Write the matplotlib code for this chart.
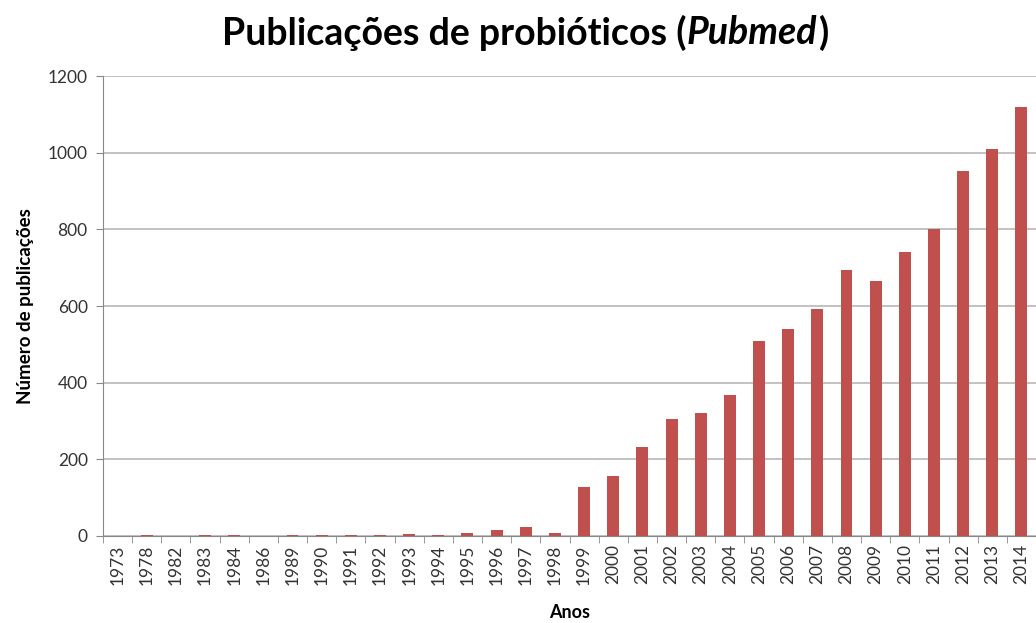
import matplotlib.pyplot as plt
import numpy as np

# data
anos = ['1973', '1978', '1982', '1983', '1984', '1986', '1989', '1990', '1991', '1992',
        '1993', '1994', '1995', '1996', '1997', '1998', '1999', '2000', '2001', '2002',
        '2003', '2004', '2005', '2006', '2007', '2008', '2009', '2010', '2011', '2012',
        '2013', '2014']
publicacoes = [1, 2, 1, 2, 2, 1, 2, 2, 3, 2,
               6, 3, 9, 16, 24, 9, 127, 157, 233, 304,
               321, 367, 510, 541, 592, 693, 664, 740, 802, 952,
               1010, 1120]
y_ticks = [0, 200, 400, 600, 800, 1000, 1200]

plt.rcParams['font.family'] = ['Lato', 'DejaVu Sans']

fig = plt.figure(figsize=(10.36, 6.23), dpi=100)
ax = fig.add_axes([103 / 1036, 1 - 536 / 623, 933 / 1036, 460 / 623])

x = np.arange(len(anos))
ax.bar(x, publicacoes, width=0.41, color='#C0504D', zorder=3)

ax.set_xlim(-0.5, len(anos) - 0.5)
ax.set_ylim(0, 1200)
ax.set_yticks(y_ticks)
ax.yaxis.grid(True, color='#b8b8b8', linewidth=1.2, zorder=0)

ax.set_xticks(x)
ax.set_xticklabels(anos, rotation=90)
ax.set_xticks(np.arange(len(anos) + 1) - 0.5, minor=True)
ax.tick_params(axis='x', which='major', length=0, pad=6, labelsize=12.5, labelcolor='#333333')
ax.tick_params(axis='x', which='minor', length=5, color='#888888')
ax.tick_params(axis='y', length=5, color='#888888', labelsize=12.5, labelcolor='#333333', pad=6)

for s in ['top', 'right']:
    ax.spines[s].set_visible(False)
ax.spines['left'].set_color('#888888')
ax.spines['bottom'].set_color('#888888')

ax.set_ylabel('Número de publicações', fontsize=13.5, fontweight='bold', labelpad=10)
ax.set_xlabel('Anos', fontsize=13, fontweight='bold', labelpad=14)

# title with italic part
ty = 1 - 33 / 623
fs = 27
t1 = fig.text(222 / 1036, ty, 'Publicações de probióticos (', fontsize=fs,
              fontweight='bold', ha='left', va='center')
fig.canvas.draw()
bb = t1.get_window_extent()
t2 = fig.text(bb.x1 / 1036, ty, 'Pubmed', fontsize=fs, fontweight='bold',
              fontstyle='italic', ha='left', va='center')
fig.canvas.draw()
bb2 = t2.get_window_extent()
fig.text((bb2.x1 + 2) / 1036, ty, ')', fontsize=fs, fontweight='bold',
         ha='left', va='center')

fig.savefig('out.png', dpi=100)
